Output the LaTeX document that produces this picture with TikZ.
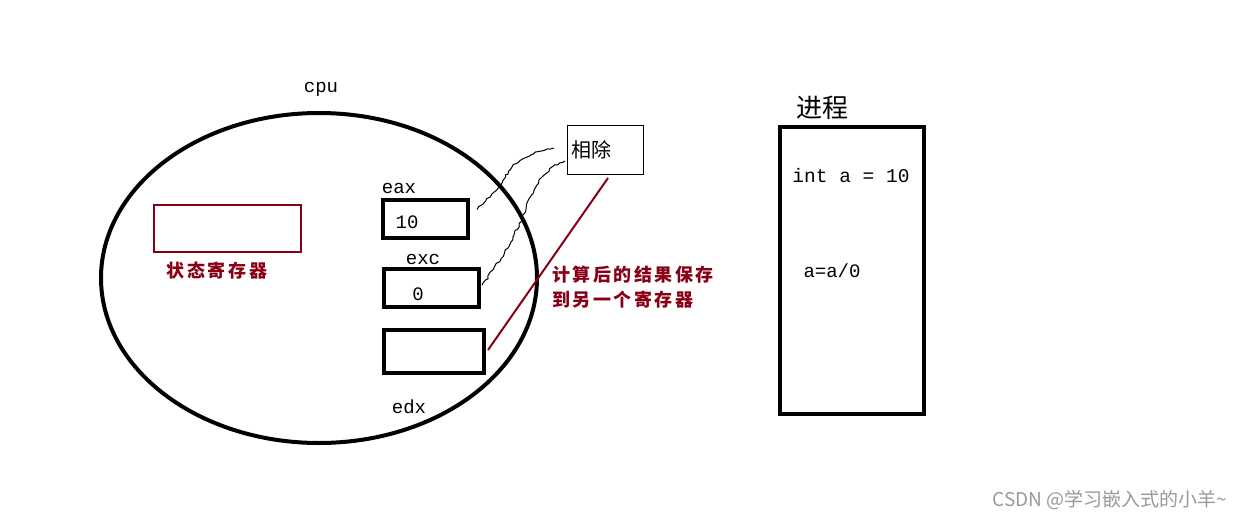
\documentclass[tikz,border=0pt]{standalone}
\usepackage{fontspec}
\setmainfont{Liberation Serif}
\setmonofont{Liberation Mono}
\newfontfamily\cjk{Noto Sans CJK SC}
\newfontfamily\cjksp[LetterSpace=14]{Noto Sans CJK SC}
\usetikzlibrary{decorations.pathmorphing,shapes.geometric}
\definecolor{dred}{HTML}{880015}
\begin{document}
\begin{tikzpicture}[x=1pt,y=-1pt,
  lbl/.style={font=\ttfamily\fontsize{19}{20}\selectfont, inner sep=0pt},
  reg/.style={draw=black, line width=4pt, inner sep=0pt},
  red/.style={text=dred, font=\cjksp\bfseries\fontsize{18}{25}\selectfont, inner sep=0pt},
  wig/.style={draw=black, line width=1pt, decorate, decoration={random steps, segment length=3pt, amplitude=1.2pt}}]
\useasboundingbox (0,0) rectangle (1248,522);
% cpu ellipse
\node (cpu) [draw, line width=4pt, ellipse, minimum width=436pt, minimum height=330pt, inner sep=0pt] at (319,278) {};
\node (cpul) [lbl] at (321,89) {cpu};
% status register
\node (sr) [draw=dred, line width=2pt, minimum width=147pt, minimum height=47pt, inner sep=0pt] at (227,228) {};
\node (srl) [red] at (217,271) {状态寄存器};
% registers
\node (eaxl) [lbl] at (399,188) {eax};
\node (eax) [reg, minimum width=85pt, minimum height=38pt] at (425.5,218.5) {};
\node (eaxv) [lbl] at (407,222) {10};
\node (excl) [lbl] at (423,259) {exc};
\node (exc) [reg, minimum width=95pt, minimum height=38pt] at (431.5,288) {};
\node (excv) [lbl] at (418,294) {0};
\node (edx) [reg, minimum width=100pt, minimum height=43pt] at (434,351.5) {};
\node (edxl) [lbl] at (409,407) {edx};
% divide box
\node (div) [draw, line width=1pt, minimum width=76pt, minimum height=49pt, inner sep=0pt] at (605,149.5) {};
\node (divl) [font=\cjk\fontsize{20}{22}\selectfont, inner sep=0pt] at (591,150) {相除};
% wiggly connectors
\coordinate (w1) at (554,148);
\coordinate (w2) at (565,161);
\draw[wig] (eax.east) ++(7,-9) .. controls (520,170) and (500,160) .. (w1);
\draw[wig] (exc.east) ++(1,-3) .. controls (540,210) and (520,180) .. (w2);
% red line
\coordinate (r1) at (488,350);
\coordinate (r2) at (608,178);
\draw[dred, line width=2pt] (r1) -- (r2);
\node (redt) [red, align=left, anchor=north west] at (552,266) {计算后的结果保存\\到另一个寄存器};
% process
\node (procl) [font=\cjk\fontsize{26}{28}\selectfont, inner sep=0pt] at (822,108) {进程};
\node (proc) [reg, minimum width=144pt, minimum height=287pt] at (852,270.5) {};
\node (code1) [lbl, font=\ttfamily\fontsize{19.5}{20}\selectfont] at (851,176) {int a = 10};
\node (code2) [lbl] at (832,271) {a=a/0};
% watermark
\node (wm) [text=black!40, font=\cjk\fontsize{19}{20}\selectfont, inner sep=0pt] at (1110,500) {CSDN @学习嵌入式的小羊\textasciitilde};
\end{tikzpicture}
\end{document}
